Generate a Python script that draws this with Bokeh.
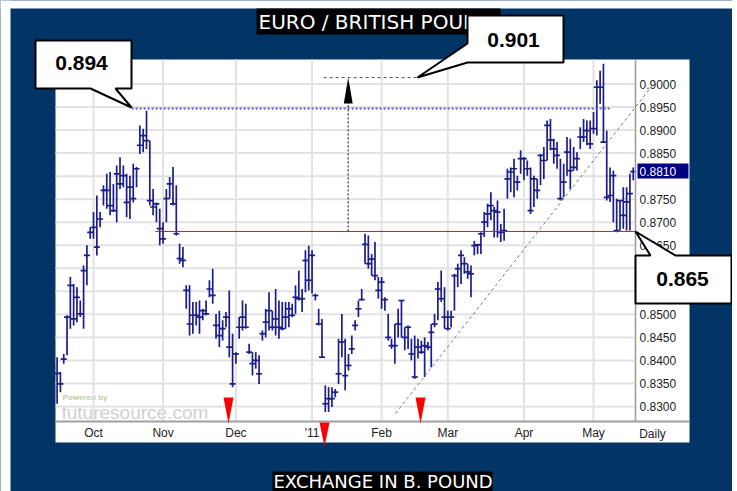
from bokeh.plotting import figure
from bokeh.models import (FixedTicker, NumeralTickFormatter, BoxAnnotation,
                          PolyAnnotation, Label, Range1d)
from bokeh.embed import file_html
from bokeh.resources import INLINE

# ---------------- data (daily EUR/GBP bars) ----------------
month_ticks = [11, 32, 54, 77, 98, 118, 141, 162]
month_labels = ["Oct", "Nov", "Dec", "'11", "Feb", "Mar", "Apr", "May"]

price_ticks = [0.830, 0.835, 0.840, 0.845, 0.850, 0.855, 0.860, 0.865,
               0.870, 0.875, 0.880, 0.885, 0.890, 0.895, 0.900]
hidden_price_labels = [0.880]   # covered by the last-price box
axis_price_ticks = [t for t in price_ticks
                    if all(abs(t - h) > 1e-9 for h in hidden_price_labels)]

high = [
    0.8407, 0.8375, 0.8414, 0.8498, 0.8581, 0.8566, 0.8559, 0.8530, 0.8606, 0.8650,
    0.8689, 0.8722, 0.8758, 0.8722, 0.8780, 0.8805, 0.8809, 0.8783, 0.8823, 0.8841,
    0.8823, 0.8805, 0.8801, 0.8827, 0.8820, 0.8910, 0.8903, 0.8942, 0.8877, 0.8772,
    0.8743, 0.8729, 0.8700, 0.8772, 0.8798, 0.8820, 0.8780, 0.8653, 0.8646, 0.8563,
    0.8563, 0.8527, 0.8527,
    0.8530, 0.8512, 0.8530, 0.8574, 0.8599, 0.8501, 0.8508, 0.8487, 0.8505, 0.8552,
    0.8458, 0.8418, 0.8494, 0.8530, 0.8523, 0.8436, 0.8418, 0.8418, 0.8411, 0.8465,
    0.8512, 0.8548, 0.8508, 0.8555, 0.8530, 0.8527, 0.8527, 0.8527, 0.8523, 0.8563,
    0.8595, 0.8555, 0.8639, 0.8649, 0.8639, 0.8545, 0.8512, 0.8490, 0.8346, 0.8342,
    0.8342, 0.8338, 0.8447, 0.8501, 0.8447,
    0.8414, 0.8454, 0.8487, 0.8530, 0.8555, 0.8675, 0.8671, 0.8631, 0.8657, 0.8581,
    0.8581, 0.8537, 0.8501, 0.8447, 0.8479, 0.8512, 0.8530, 0.8472, 0.8476, 0.8447,
    0.8454, 0.8447, 0.8443, 0.8450, 0.8440, 0.8479, 0.8501, 0.8570, 0.8595, 0.8559,
    0.8508, 0.8508, 0.8588, 0.8610, 0.8639, 0.8624, 0.8610, 0.8606, 0.8660, 0.8653,
    0.8678, 0.8722, 0.8740,
    0.8765, 0.8733, 0.8747, 0.8696, 0.8729, 0.8816, 0.8819, 0.8838, 0.8801, 0.8856,
    0.8841, 0.8834, 0.8819, 0.8801, 0.8794, 0.8848, 0.8863, 0.8921, 0.8924, 0.8881,
    0.8874, 0.8838, 0.8827, 0.8885, 0.8881, 0.8863, 0.8852, 0.8906, 0.8924, 0.8921,
    0.8921, 0.8939, 0.9008, 0.9029, 0.9044, 0.8899, 0.8819, 0.8812, 0.8751, 0.8747,
    0.8776, 0.8776, 0.8805, 0.8819,
]
low = [
    0.8306, 0.8331, 0.8393, 0.8411, 0.8469, 0.8476, 0.8483, 0.8494, 0.8469, 0.8563,
    0.8664, 0.8664, 0.8628, 0.8689, 0.8736, 0.8729, 0.8715, 0.8722, 0.8700, 0.8772,
    0.8776, 0.8711, 0.8707, 0.8743, 0.8776, 0.8848, 0.8852, 0.8859, 0.8736, 0.8715,
    0.8700, 0.8650, 0.8653, 0.8700, 0.8751, 0.8736, 0.8671, 0.8610, 0.8602, 0.8512,
    0.8454, 0.8458, 0.8476,
    0.8458, 0.8487, 0.8498, 0.8537, 0.8523, 0.8447, 0.8429, 0.8443, 0.8472, 0.8407,
    0.8342, 0.8393, 0.8447, 0.8465, 0.8469, 0.8414, 0.8367, 0.8382, 0.8349, 0.8443,
    0.8450, 0.8465, 0.8465, 0.8454, 0.8447, 0.8465, 0.8469, 0.8472, 0.8494, 0.8501,
    0.8530, 0.8505, 0.8548, 0.8552, 0.8545, 0.8530, 0.8476, 0.8407, 0.8288, 0.8288,
    0.8299, 0.8320, 0.8349, 0.8407, 0.8335,
    0.8378, 0.8414, 0.8465, 0.8494, 0.8530, 0.8610, 0.8599, 0.8584, 0.8574, 0.8534,
    0.8512, 0.8508, 0.8443, 0.8425, 0.8393, 0.8450, 0.8450, 0.8422, 0.8425, 0.8400,
    0.8360, 0.8404, 0.8414, 0.8364, 0.8422, 0.8385, 0.8472, 0.8487, 0.8527, 0.8469,
    0.8465, 0.8472, 0.8508, 0.8559, 0.8566, 0.8588, 0.8577, 0.8537, 0.8628, 0.8631,
    0.8631, 0.8668, 0.8689,
    0.8704, 0.8667, 0.8667, 0.8657, 0.8660, 0.8751, 0.8765, 0.8754, 0.8769, 0.8805,
    0.8791, 0.8801, 0.8718, 0.8733, 0.8751, 0.8780, 0.8794, 0.8834, 0.8856, 0.8827,
    0.8816, 0.8747, 0.8754, 0.8801, 0.8772, 0.8812, 0.8812, 0.8859, 0.8874, 0.8867,
    0.8859, 0.8892, 0.8888, 0.8957, 0.8874, 0.8747, 0.8744, 0.8700, 0.8678, 0.8682,
    0.8686, 0.8682, 0.8682, 0.8791,
]
close = [
    0.8372, 0.8349, 0.8403, 0.8494, 0.8563, 0.8490, 0.8537, 0.8501, 0.8595, 0.8628,
    0.8678, 0.8689, 0.8646, 0.8707, 0.8769, 0.8769, 0.8736, 0.8725, 0.8805, 0.8783,
    0.8801, 0.8743, 0.8776, 0.8751, 0.8816, 0.8867, 0.8888, 0.8877, 0.8747, 0.8733,
    0.8740, 0.8686, 0.8664, 0.8751, 0.8783, 0.8740, 0.8675, 0.8621, 0.8617, 0.8552,
    0.8479, 0.8498, 0.8498,
    0.8494, 0.8508, 0.8501, 0.8555, 0.8541, 0.8476, 0.8454, 0.8469, 0.8494, 0.8429,
    0.8349, 0.8414, 0.8472, 0.8494, 0.8472, 0.8418, 0.8393, 0.8400, 0.8371, 0.8458,
    0.8483, 0.8508, 0.8472, 0.8490, 0.8472, 0.8469, 0.8494, 0.8512, 0.8498, 0.8537,
    0.8534, 0.8534, 0.8617, 0.8574, 0.8628, 0.8541, 0.8479, 0.8407, 0.8306, 0.8317,
    0.8317, 0.8331, 0.8371, 0.8440, 0.8367,
    0.8389, 0.8425, 0.8476, 0.8512, 0.8532, 0.8652, 0.8610, 0.8620, 0.8584, 0.8552,
    0.8570, 0.8532, 0.8450, 0.8432, 0.8432, 0.8479, 0.8530, 0.8450, 0.8472, 0.8414,
    0.8364, 0.8429, 0.8418, 0.8432, 0.8429, 0.8461, 0.8479, 0.8555, 0.8534, 0.8494,
    0.8469, 0.8494, 0.8584, 0.8599, 0.8628, 0.8610, 0.8592, 0.8588, 0.8649, 0.8651,
    0.8675, 0.8700, 0.8718,
    0.8736, 0.8725, 0.8722, 0.8678, 0.8682, 0.8794, 0.8809, 0.8816, 0.8787, 0.8838,
    0.8838, 0.8816, 0.8725, 0.8794, 0.8769, 0.8845, 0.8834, 0.8910, 0.8878, 0.8859,
    0.8845, 0.8751, 0.8787, 0.8852, 0.8812, 0.8819, 0.8838, 0.8885, 0.8885, 0.8899,
    0.8870, 0.8903, 0.8993, 0.8993, 0.8874, 0.8754, 0.8758, 0.8801, 0.8682, 0.8747,
    0.8715, 0.8744, 0.8762, 0.8810,
]

# reference levels drawn on the chart
resistance = 0.8947          # blue dotted (0.894 high)
resistance_span = [22.5, 167.1]
support = 0.8680             # red neckline (0.865 callout)
support_span = [29.7, 174.69]
target = 0.9014              # grey dashed target (0.901)
target_span = [80.5, 108.8]
target_bar = 87.9            # position of the measured-move arrow

callout_texts = ["0.894", "0.901", "0.865"]
title_text = "EURO / BRITISH POUND"
bottom_text = "EXCHANGE IN B. POUND"

assert len(high) == len(low) == len(close)
n = len(close)
idx = list(range(n))

NAVY = "#033466"
BAR = "#1c1c8a"
GRID = "#e2e2e2"

# chart area (in data units) inside the full-canvas frame
X_LEFT, X_RIGHT, X_AXIS_END = -0.48, 174.69, 191.0
Y_BOTTOM, Y_TOP = 0.826742, 0.905318

p = figure(width=732, height=491, output_backend="svg", toolbar_location=None,
           x_range=Range1d(-17.094, 203.98), y_range=Range1d(0.811547, 0.918125),
           y_axis_location="right",
           min_border=0, min_border_left=0, min_border_right=0,
           min_border_top=0, min_border_bottom=0,
           border_fill_color="white", background_fill_color=NAVY,
           outline_line_color=None)
p.grid.visible = False

# axes, pinned to the chart area edges
yax = p.yaxis[0]
yax.fixed_location = X_RIGHT
yax.bounds = (Y_BOTTOM, Y_TOP)
yax.ticker = FixedTicker(ticks=axis_price_ticks)
yax.formatter = NumeralTickFormatter(format="0.0000")
yax.major_tick_line_color = None
yax.minor_tick_line_color = None
yax.major_tick_out = 0
yax.major_tick_in = 0
yax.major_label_standoff = 4
yax.axis_line_color = "#9a9a9a"
yax.axis_line_width = 1.5
yax.major_label_text_font = "Liberation Sans"
yax.major_label_text_font_size = "12px"
yax.major_label_text_color = "#222222"

xax = p.xaxis[0]
xax.fixed_location = Y_BOTTOM
xax.bounds = (X_LEFT, X_AXIS_END)
xax.ticker = FixedTicker(ticks=month_ticks)
xax.major_label_overrides = dict(zip(month_ticks, month_labels))
xax.major_tick_line_color = None
xax.minor_tick_line_color = None
xax.major_tick_out = 0
xax.major_tick_in = 0
xax.major_label_standoff = 5
xax.axis_line_color = "#a0a0a0"
xax.axis_line_width = 2
xax.major_label_text_font = "Liberation Sans"
xax.major_label_text_font_size = "12px"
xax.major_label_text_color = "#222222"


def box(l, r, t, b, color, level="overlay"):
    p.add_layout(BoxAnnotation(left=l, right=r, top=t, bottom=b,
                               left_units="canvas", right_units="canvas",
                               top_units="canvas", bottom_units="canvas",
                               fill_color=color, fill_alpha=1, line_color=None,
                               level=level))


def poly(pts, fill, line=None, width=1, dash="solid", level="overlay"):
    p.add_layout(PolyAnnotation(xs=[x for x, _ in pts], ys=[y for _, y in pts],
                                xs_units="canvas", ys_units="canvas",
                                fill_color=fill if fill else "white",
                                fill_alpha=1 if fill else 0,
                                line_color=line, line_alpha=1,
                                line_width=width, line_dash=dash,
                                level=level))


def label(x, y, text, size, color, font="Liberation Sans", style="normal",
          align="left", baseline="middle", level="overlay"):
    p.add_layout(Label(x=x, y=y, x_units="canvas", y_units="canvas", text=text,
                       text_font=font, text_font_size=size, text_color=color,
                       text_font_style=style, text_align=align,
                       text_baseline=baseline, level=level))


# white chart panel and white page edges (navy is the frame background)
box(55, 689, 59, 442, "white", level="image")
box(0, 10, 0, 491, "white", level="image")
box(0, 732, 0, 8, "white", level="image")

# watermark
label(62, 397, "Powered by", "8px", "#c2cca8", style="bold", baseline="alphabetic",
      level="underlay")
label(61, 412, "futuresource.com", "19px", "#d0d0d0", baseline="alphabetic",
      level="underlay")

# grid lines at the tick values, limited to the chart area
p.segment(x0=[X_LEFT] * len(price_ticks), x1=[X_RIGHT] * len(price_ticks),
          y0=price_ticks, y1=price_ticks, line_color=GRID, line_width=2)
p.segment(x0=month_ticks, x1=month_ticks, y0=[Y_BOTTOM] * len(month_ticks),
          y1=[Y_TOP] * len(month_ticks), line_color=GRID, line_width=2)

# bars: high-low line with close tick
p.segment(x0=idx, y0=low, x1=idx, y1=high, line_color=BAR, line_width=1.7)
p.scatter(x=idx, y=close, marker="dash", size=6, line_color=BAR, line_width=1.7)

# reference levels
p.segment(x0=[resistance_span[0]], x1=[resistance_span[1]], y0=[resistance], y1=[resistance],
          line_color="#5555ee", line_width=2, line_dash="2 2")
p.segment(x0=[support_span[0]], x1=[support_span[1]], y0=[support], y1=[support],
          line_color="#ff0000", line_width=1)
p.segment(x0=[target_span[0]], x1=[target_span[1]], y0=[target], y1=[target],
          line_color="#555555", line_width=1, line_dash="3 3")
p.segment(x0=[target_bar], x1=[target_bar], y0=[support], y1=[target - 0.002],
          line_color="#000000", line_width=1, line_dash="2 2")

# arrow head of measured move
poly([(347.7, 77), (343.3, 103), (352.2, 103)], "black")

# trend line
poly([(395, 413), (651, 86)], None, line="#777777", width=1, dash="3 3")

# red markers
poly([(223, 397), (233, 397), (228, 423)], "#ff0000")
poly([(319, 422), (329, 422), (324, 446)], "#ff0000")
poly([(415, 397), (425, 397), (420, 423)], "#ff0000")

# last-price highlight
box(637, 688, 163, 178, "#000080")
label(639, 170.5, f"{close[-1]:.4f}", "12px", "white")

# "Daily"
label(652, 433, "Daily", "12px", "#222222", align="center")

# title boxes
box(256, 500, 8, 34, "black")
label(258, 21.5, title_text, "20px", "white", font="DejaVu Sans")
box(272, 492, 471, 495, "black")
label(273, 481, bottom_text, "18px", "white", font="DejaVu Sans")

# callouts
callouts = [
    ([(35, 40), (131, 40), (131, 88), (115, 88), (131, 107), (90, 88), (35, 88)],
     (81, 62.5), callout_texts[0]),
    ([(467, 15), (563, 15), (563, 62), (467, 62), (417, 77), (467, 43)],
     (513, 39), callout_texts[1]),
    ([(635, 255), (650, 255), (635, 231), (675, 255), (731, 255), (731, 303), (635, 303)],
     (682, 278.5), callout_texts[2]),
]
for pts, (tx, ty), txt in callouts:
    poly(pts, "white", line="black", width=2)
    label(tx, ty, txt, "21px", "black", style="bold", align="center")

open("out.html", "w").write(file_html(p, INLINE))
